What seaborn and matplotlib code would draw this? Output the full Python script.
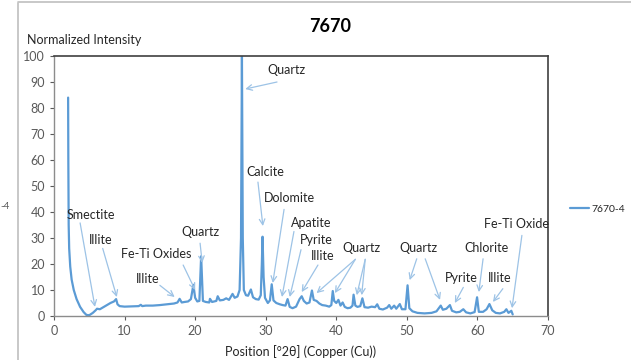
import matplotlib
matplotlib.use("Agg")
import matplotlib.pyplot as plt
import seaborn as sns
import pandas as pd
from matplotlib.lines import Line2D

# ---- data ----
two_theta = [2.0, 2.03, 2.08, 2.15, 2.3, 2.5, 2.8, 3.2, 3.7, 4.2, 4.6, 5.0, 5.5, 5.9, 6.1, 6.5, 7.0, 7.5, 8.0,
             8.5, 8.8, 9.0, 9.3, 10, 11, 12, 12.3, 12.5, 13, 14, 15, 16, 17, 17.5, 17.8, 18.1, 18.5,
             19.0, 19.4, 19.75, 20.0, 20.3, 20.6, 20.85, 21.1, 21.5, 22.0, 22.1, 22.4, 23.0, 23.2,
             23.5, 24, 24.4, 24.8, 25.3, 25.6, 26.0, 26.3, 26.5, 26.63, 26.75, 26.9, 27.2, 27.5,
             27.9, 28.2, 28.6, 29.0, 29.3, 29.45, 29.55, 29.7, 29.9, 30.3, 30.6, 30.85, 31.1, 31.5,
             32, 32.4, 32.8, 33.1, 33.4, 33.8, 34.3, 34.8, 35.1, 35.4, 35.8, 36.2, 36.55, 36.8,
             37.2, 37.6, 38, 38.5, 39, 39.3, 39.5, 39.7, 40.0, 40.3, 40.6, 40.9, 41.2, 41.6, 42.0,
             42.3, 42.45, 42.7, 43.0, 43.4, 43.7, 44.0, 44.5, 45, 45.5, 45.8, 46.1, 46.6, 47.2,
             47.5, 47.8, 48.2, 48.5, 49.0, 49.3, 49.8, 50.1, 50.35, 50.8, 51.5, 52.5, 53.5, 54.2,
             54.8, 55.1, 55.6, 56.1, 56.4, 57.0, 57.5, 58.0, 58.4, 59.0, 59.6, 59.95, 60.2, 60.8,
             61.3, 61.7, 62.1, 62.6, 63.2, 63.8, 64.1, 64.4, 64.8, 65.0]
intensity = [84, 60, 35, 26, 19, 14, 10, 6.5, 3.5, 1.5, 0.4, 0.3, 1.2, 2.2, 2.8, 2.6, 3.4, 4.2, 5.0,
             5.6, 6.5, 4.5, 3.8, 3.6, 3.7, 3.8, 4.3, 3.8, 4.0, 4.0, 4.2, 4.5, 4.8, 5.2, 6.6, 5.2, 5.4,
             5.6, 6.5, 12, 7, 5.6, 5.8, 23, 5.8, 5.4, 5.2, 6.6, 5.4, 5.8, 7.6,
             6.0, 6.2, 6.8, 6.2, 8.5, 7.0, 7.5, 10, 30, 100, 30, 10, 8, 7.8,
             10.2, 7.2, 6.5, 6.3, 8, 20, 30.5, 15, 7, 5, 6, 12.2, 6, 5,
             4.5, 4.2, 4.0, 6.5, 3.5, 3.0, 3.6, 6.5, 7.6, 5.8, 4.8, 5.2, 9.8, 6.2,
             5.8, 4.8, 4.2, 4.0, 3.6, 4.2, 9.6, 5.8, 5.0, 6.2, 4.0, 5.2, 3.5, 3.0, 3.2,
             4.0, 8.2, 4.0, 3.5, 3.8, 6.8, 3.4, 3.2, 3.6, 3.4, 4.5, 2.8, 2.5, 3.2,
             4.2, 2.8, 4.0, 2.8, 4.6, 2.6, 2.6, 11.8, 3.0, 1.8, 1.2, 1.0, 1.2, 1.8,
             4.0, 2.4, 2.8, 4.2, 2.0, 1.4, 1.6, 2.6, 1.4, 1.0, 1.5, 7.2, 1.6, 1.6,
             2.6, 4.6, 2.2, 1.2, 1.0, 1.6, 2.6, 1.2, 2.0, 0.6]
series_name = "7670-4"
title = "7670"
x_ticks = [0, 10, 20, 30, 40, 50, 60, 70]
y_ticks = [0, 10, 20, 30, 40, 50, 60, 70, 80, 90, 100]

# mineral labels
labels = ["Quartz", "Calcite", "Dolomite", "Apatite", "Pyrite", "Illite", "Quartz", "Quartz",
          "Pyrite", "Chlorite", "Illite", "Fe-Ti Oxide", "Smectite", "Illite", "Fe-Ti Oxides",
          "Quartz", "Illite"]

# layout of annotations: (text x, text y, [(tail x, tail y, head x, head y), ...])
ann_layout = [
    (33.0, 94.6, [(31.6, 90.0, 27.1, 87.3)]),
    (29.9, 55.4, [(28.9, 51.5, 29.6, 34.6)]),
    (33.3, 45.4, [(32.6, 41.0, 31.0, 12.7)]),
    (36.4, 35.8, [(34.0, 32.5, 32.3, 7.3)]),
    (37.1, 29.2, [(35.0, 25.5, 33.4, 7.3)]),
    (38.1, 23.0, [(37.4, 19.6, 35.1, 9.2)]),
    (43.6, 26.2, [(42.7, 21.8, 37.2, 8.8), (42.7, 21.8, 39.8, 8.8),
                  (44.1, 21.8, 42.9, 8.0), (44.1, 21.8, 43.6, 8.0)]),
    (51.7, 26.2, [(51.4, 22.0, 50.4, 13.8), (52.6, 22.0, 54.7, 6.2)]),
    (57.7, 14.6, [(58.0, 11.0, 56.8, 5.0)]),
    (61.3, 26.2, [(60.8, 22.0, 60.2, 9.2)]),
    (63.2, 14.6, [(63.6, 10.5, 62.2, 5.4)]),
    (65.6, 35.4, [(66.3, 31.0, 64.9, 3.0)]),
    (5.2, 38.8, [(3.7, 35.8, 5.8, 3.5)]),
    (6.6, 29.2, [(6.9, 26.0, 8.9, 7.3)]),
    (14.5, 23.8, [(18.3, 19.6, 20.0, 10.0)]),
    (20.7, 32.3, [(20.7, 28.0, 21.0, 20.4)]),
    (13.3, 14.2, [(15.0, 11.8, 17.1, 7.3)]),
]

df = pd.DataFrame({"two_theta": two_theta, "intensity": intensity, "series": series_name})

sns.set_style("white")
plt.rcParams["font.family"] = ["Lato", "DejaVu Sans"]

fig = plt.figure(figsize=(6.31, 3.60), dpi=100)
ax = fig.add_axes([54 / 631, 44 / 360, 494 / 631, 260 / 360])

line_color = "#5B9BD5"
arrow_color = "#9DC3E6"
sns.lineplot(data=df, x="two_theta", y="intensity", hue="series", palette=[line_color],
             linewidth=1.6, ax=ax, legend=False, estimator=None, sort=False)

ax.set_xlim(0, 70)
ax.set_ylim(0, 100)
ax.set_xticks(x_ticks)
ax.set_yticks(y_ticks)
ax.tick_params(axis="both", labelsize=9, colors="#595959", length=3, width=0.8,
               direction="out", left=True, bottom=True)
ax.set_xlabel("")
ax.set_ylabel("")
for s in ["top", "right"]:
    ax.spines[s].set_color("#404040")
    ax.spines[s].set_linewidth(1.2)
for s in ["left", "bottom"]:
    ax.spines[s].set_color("#8C8C8C")
    ax.spines[s].set_linewidth(1.0)

for lab, (tx, ty, arrows) in zip(labels, ann_layout):
    ax.text(tx, ty, lab, ha="center", va="center", fontsize=9, color="#262626", zorder=5)
    for (x0, y0, x1, y1) in arrows:
        ax.annotate("", xy=(x1, y1), xytext=(x0, y0),
                    arrowprops=dict(arrowstyle="->", color=arrow_color, lw=0.9,
                                    shrinkA=0, shrinkB=0, mutation_scale=10),
                    annotation_clip=False)

fig.text(330 / 631, 1 - 27 / 360, title, ha="center", va="center", fontsize=13,
         fontweight="bold", color="#000000")
fig.text(27 / 631, 1 - 40 / 360, "Normalized Intensity", ha="left", va="center",
         fontsize=9, color="#262626")
fig.text(301 / 631, 1 - 352 / 360, "Position [°2θ] (Copper (Cu))", ha="center", va="center",
         fontsize=9, color="#262626")

handle = Line2D([0], [0], color=line_color, lw=1.6)
fig.legend([handle], [series_name], loc="center left", bbox_to_anchor=(570 / 631, 1 - 209 / 360),
           frameon=False, fontsize=7.5, handlelength=1.8, handletextpad=0.25, borderpad=0,
           borderaxespad=0, labelcolor="#262626")

# outer frame remnants
fig.add_artist(Line2D([18 / 631, 18 / 631], [0, 1 - 3 / 360], transform=fig.transFigure,
                      color="#BFBFBF", lw=1.2))
fig.add_artist(Line2D([18 / 631, 1], [1 - 2 / 360, 1 - 2 / 360], transform=fig.transFigure,
                      color="#BFBFBF", lw=1.2))
fig.text(0.0, 1 - 207 / 360, "-4", ha="left", va="center", fontsize=7, color="#595959")

fig.savefig("out.png", dpi=100, facecolor="white")
